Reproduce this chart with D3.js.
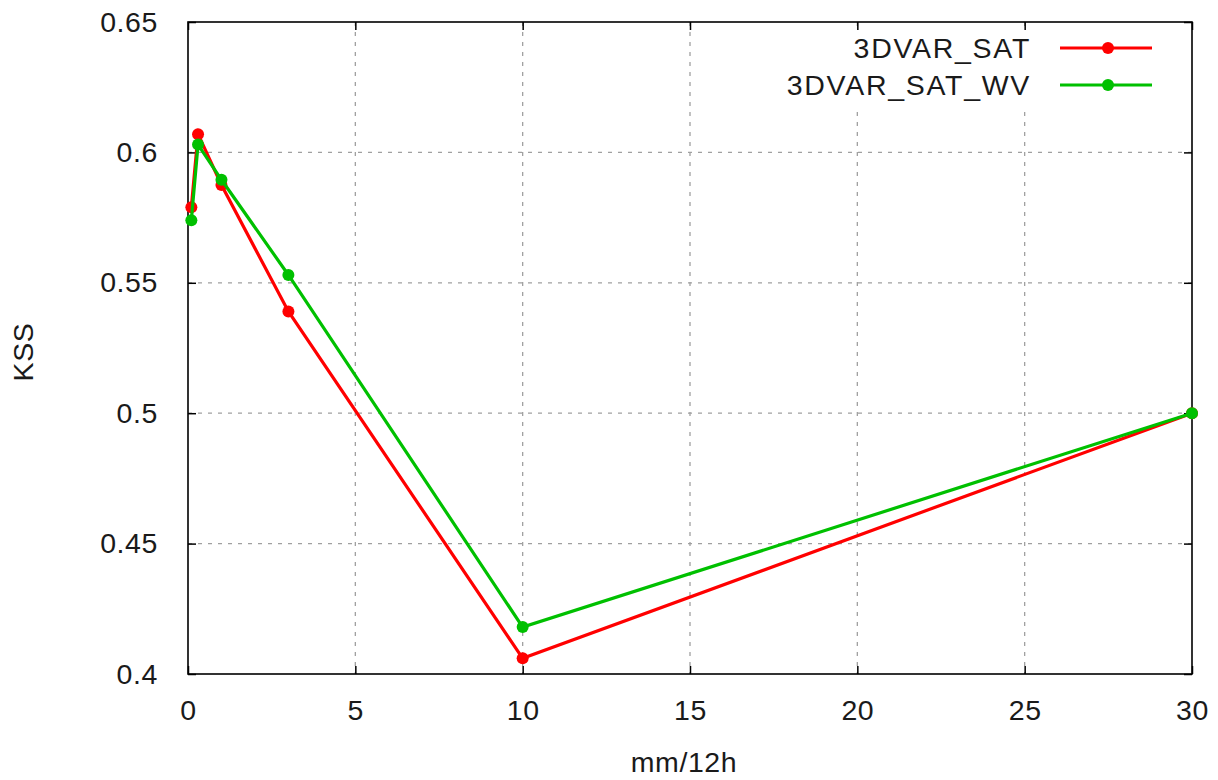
<!DOCTYPE html>
<html>
<head>
<meta charset="utf-8">
<script src="https://cdn.jsdelivr.net/npm/d3@7"></script>
<style>
  body { margin: 0; background: #fff; }
  svg { display: block; font-family: "Liberation Sans", Arial, sans-serif; }
</style>
</head>
<body>
<svg></svg>
<script>
"use strict";

// Data
const thresholds = [0.1, 0.3, 1, 3, 10, 30];
const kssSat = [0.579, 0.607, 0.5875, 0.539, 0.406, 0.5];
const kssSatWv = [0.574, 0.603, 0.5895, 0.553, 0.418, 0.5];
const seriesNames = ["3DVAR_SAT", "3DVAR_SAT_WV"];
const seriesColors = ["#ff0000", "#00c000"];
const xTicks = [0, 5, 10, 15, 20, 25, 30];
const yTicks = [0.4, 0.45, 0.5, 0.55, 0.6, 0.65];

// Sizes
const W = 1218, H = 780;
const margin = { l: 188, r: 26, t: 22, b: 106 };
const width = W - margin.l - margin.r;
const height = H - margin.t - margin.b;
const fontSize = 28.5;
const textColor = "#1a1a1a";

const svg = d3.select("svg")
  .attr("width", W)
  .attr("height", H);

const g = svg.append("g")
  .attr("transform", `translate(${margin.l}, ${margin.t})`);

// Scales
const xScale = d3.scaleLinear().domain([0, 30]).range([0, width]);
const yScale = d3.scaleLinear().domain([0.4, 0.65]).range([height, 0]);

// Grid
g.append("g").selectAll("line")
  .data(xTicks.slice(1, -1))
  .join("line")
    .attr("x1", d => xScale(d)).attr("x2", d => xScale(d))
    .attr("y1", 0).attr("y2", height)
    .attr("stroke", "#a0a0a0")
    .attr("stroke-width", 1.3)
    .attr("stroke-dasharray", "4,6");

g.append("g").selectAll("line")
  .data(yTicks.slice(1, -1))
  .join("line")
    .attr("x1", 0).attr("x2", width)
    .attr("y1", d => yScale(d)).attr("y2", d => yScale(d))
    .attr("stroke", "#a0a0a0")
    .attr("stroke-width", 1.3)
    .attr("stroke-dasharray", "4,6");

// Legend background (covers grid)
const legend = g.append("g").attr("transform", `translate(${width}, 0)`);
legend.append("rect")
  .attr("x", -418).attr("y", 9)
  .attr("width", 417).attr("height", 80)
  .attr("fill", "#fff");

// Axes with inward ticks on all sides
const fmt = d3.format("");
const tickSize = 8;
const axisStyle = sel => {
  sel.select(".domain").remove();
  sel.selectAll("line").attr("stroke", "#000").attr("stroke-width", 1.5);
  sel.selectAll("text")
    .attr("fill", textColor)
    .attr("font-size", fontSize)
    .attr("font-family", "Liberation Sans, Arial, sans-serif")
    .attr("letter-spacing", 0.6);
};

g.append("g")
  .attr("transform", `translate(0, ${height})`)
  .call(d3.axisBottom(xScale).tickValues(xTicks).tickSize(-tickSize).tickPadding(26).tickFormat(fmt))
  .call(axisStyle);

g.append("g")
  .call(d3.axisTop(xScale).tickValues(xTicks).tickSize(-tickSize).tickFormat(""))
  .call(axisStyle);

g.append("g")
  .call(d3.axisLeft(yScale).tickValues(yTicks).tickSize(-tickSize).tickPadding(30).tickFormat(fmt))
  .call(axisStyle);

g.append("g")
  .attr("transform", `translate(${width}, 0)`)
  .call(d3.axisRight(yScale).tickValues(yTicks).tickSize(-tickSize).tickFormat(""))
  .call(axisStyle);

// Frame
g.append("rect")
  .attr("width", width).attr("height", height)
  .attr("fill", "none")
  .attr("stroke", "#000")
  .attr("stroke-width", 1.6);

// Lines
const line = d3.line()
  .x(d => xScale(d[0]))
  .y(d => yScale(d[1]));

const series = [kssSat, kssSatWv];
series.forEach((vals, i) => {
  const pts = thresholds.map((x, j) => [x, vals[j]]);
  g.append("path")
    .attr("d", line(pts))
    .attr("fill", "none")
    .attr("stroke", seriesColors[i])
    .attr("stroke-width", 3.2);
  g.append("g").selectAll("circle")
    .data(pts)
    .join("circle")
      .attr("cx", d => xScale(d[0]))
      .attr("cy", d => yScale(d[1]))
      .attr("r", 6)
      .attr("fill", seriesColors[i]);
});

// Legend entries
seriesNames.forEach((name, i) => {
  const y = 26 + i * 37;
  legend.append("text")
    .attr("x", -161).attr("y", y)
    .attr("dy", "0.35em")
    .attr("text-anchor", "end")
    .attr("font-size", fontSize)
    .attr("letter-spacing", 1.7)
    .attr("fill", textColor)
    .text(name);
  legend.append("line")
    .attr("x1", -132).attr("x2", -40)
    .attr("y1", y).attr("y2", y)
    .attr("stroke", seriesColors[i])
    .attr("stroke-width", 3.2);
  legend.append("circle")
    .attr("cx", -84).attr("cy", y)
    .attr("r", 6)
    .attr("fill", seriesColors[i]);
});

// Axis labels
svg.append("text")
  .attr("transform", `translate(23, 352) rotate(-90)`)
  .attr("text-anchor", "middle")
  .attr("dy", "0.35em")
  .attr("font-size", fontSize)
  .attr("letter-spacing", 0.6)
  .attr("fill", textColor)
  .text("KSS");

svg.append("text")
  .attr("x", 684)
  .attr("y", 762)
  .attr("text-anchor", "middle")
  .attr("dy", "0.35em")
  .attr("font-size", fontSize)
  .attr("letter-spacing", 0.6)
  .attr("fill", textColor)
  .text("mm/12h");
</script>
</body>
</html>
